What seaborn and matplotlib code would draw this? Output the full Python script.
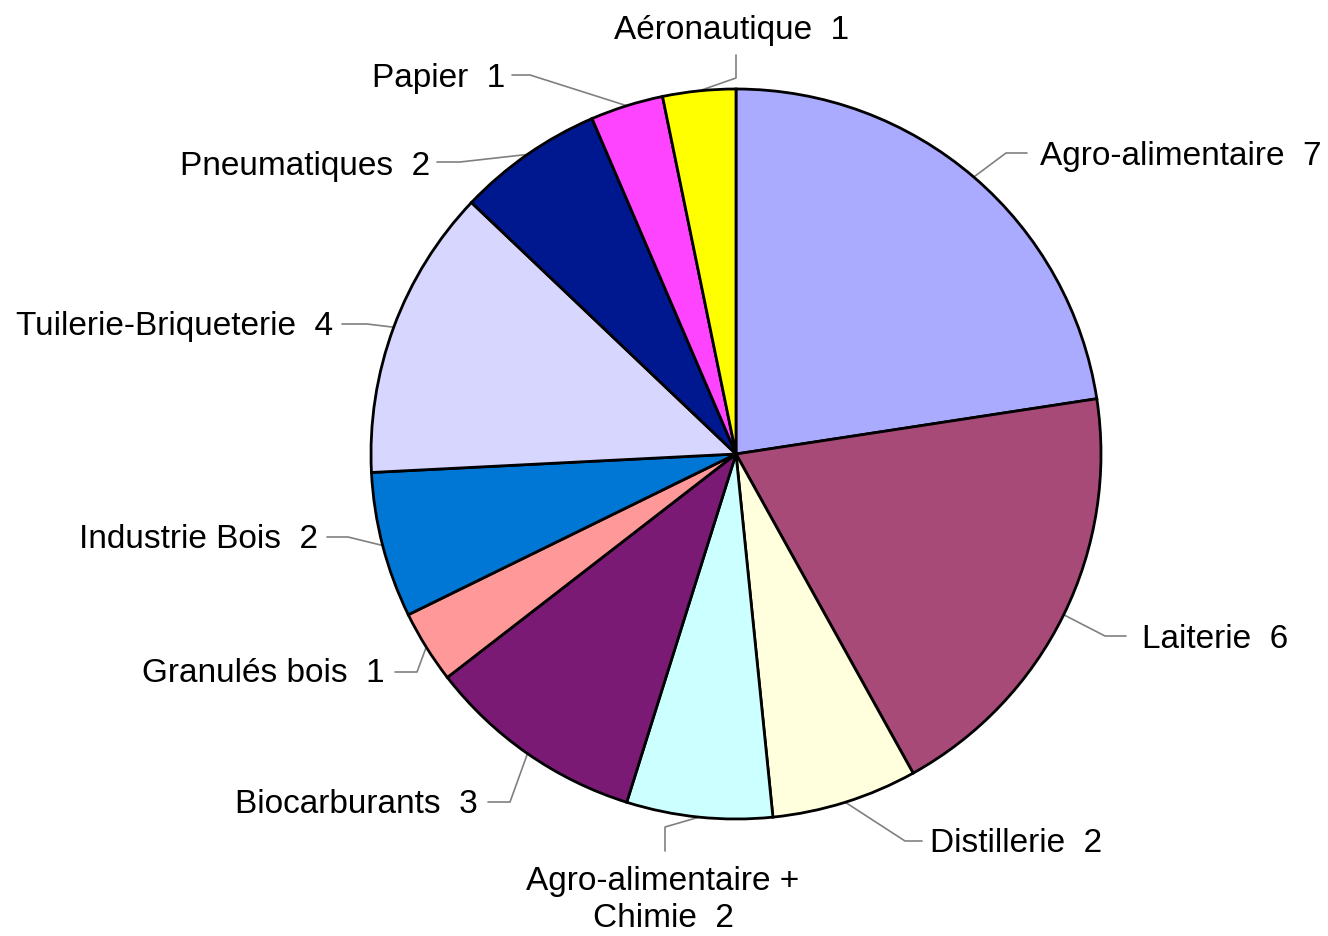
import numpy as np
import matplotlib
matplotlib.use("Agg")
import matplotlib.pyplot as plt
import seaborn as sns

# ---- data ----
categories = ["Agro-alimentaire", "Laiterie", "Distillerie", "Agro-alimentaire +\nChimie",
              "Biocarburants", "Granulés bois", "Industrie Bois", "Tuilerie-Briqueterie",
              "Pneumatiques", "Papier", "Aéronautique"]
values = [7, 6, 2, 2, 3, 1, 2, 4, 2, 1, 1]
colors = ["#AAAAFF", "#A84A78", "#FFFFDD", "#CCFFFF", "#7B1A75", "#FF9999",
          "#0077D5", "#D6D6FF", "#00188F", "#FF44FF", "#FFFF00"]

# ---- layout (pixel coords, y down): elbow, line end, text x, text baseline, ha ----
layout = [
    ((1006, 154), (1027, 154), 1040, 165, "left"),
    ((1105, 637), (1126, 637), 1142, 648, "left"),
    ((905, 842), (922, 842), 930, 852, "left"),
    ((665, 828), (665, 852), 663, 890, "center"),
    ((510, 803), (488, 803), 478, 813, "right"),
    ((417, 673), (395, 673), 385, 682, "right"),
    ((348, 538), (327, 538), 318, 548, "right"),
    ((367, 325), (342, 325), 333, 335, "right"),
    ((460, 163), (437, 163), 430, 175, "right"),
    ((530, 76), (512, 76), 505, 87, "right"),
    ((736, 79), (736, 56), 732, 39, "center"),
]

W, H = 1328, 937
sns.set_theme(style="white")
plt.rcParams["font.family"] = ["Liberation Sans", "DejaVu Sans"]

fig = plt.figure(figsize=(W / 100, H / 100), dpi=100)
ax = fig.add_axes([0, 0, 1, 1])

cx, cy, r = 736, H - 455, 365
pal = sns.color_palette(colors)
wedges, _ = ax.pie(values, colors=pal, startangle=90, counterclock=False,
                   center=(cx, cy), radius=r, frame=True,
                   wedgeprops=dict(edgecolor="black", linewidth=2))
ax.set_xlim(0, W)
ax.set_ylim(0, H)
ax.set_aspect("equal")
ax.axis("off")

fs = 24
for w, cat, v, (elbow, end, tx, ty, ha) in zip(wedges, categories, values, layout):
    ang = np.deg2rad((w.theta1 + w.theta2) / 2)
    ex, ey = cx + r * np.cos(ang), cy + r * np.sin(ang)
    xs = [ex, elbow[0], end[0]]
    ys = [ey, H - elbow[1], H - end[1]]
    ax.plot(xs, ys, color="#808080", linewidth=1.2, zorder=0.5)
    lines = f"{cat}  {v}".split("\n")
    for i, line in enumerate(lines):
        ax.text(tx, H - ty - i * 37, line, ha=ha, va="baseline", fontsize=fs, color="black")

fig.savefig("out.png", dpi=100, facecolor="white")
